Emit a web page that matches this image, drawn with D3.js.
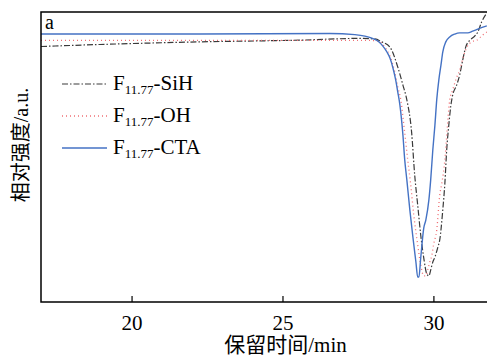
<!DOCTYPE html>
<html>
<head>
<meta charset="utf-8">
<script src="https://cdn.jsdelivr.net/npm/d3@7"></script>
<style>
  body { margin: 0; background: #fff; }
  text { font-family: 'Liberation Serif', 'Times New Roman', 'Noto Sans CJK SC', serif; fill: #000; }
</style>
</head>
<body>
<svg id="chart" width="487" height="356"></svg>
<script>
// retention time (min) and relative intensity (a.u.)
const timeSiH = [17.00, 18.95, 22.26, 25.58, 27.56, 28.06, 28.29, 28.56, 28.82, 28.99, 29.12, 29.28, 29.38, 29.48, 29.58, 29.68, 29.78, 29.85, 29.91, 29.98, 30.05, 30.15, 30.21, 30.31, 30.38, 30.44, 30.51, 30.58, 30.64, 30.77, 30.87, 30.97, 31.07, 31.21, 31.34, 31.47, 31.60, 31.77];
const valSiH = [88.1, 88.8, 89.7, 90.3, 90.9, 90.7, 89.7, 87.9, 81.0, 74.8, 69.7, 58.3, 43.8, 33.4, 23.1, 15.2, 9.7, 9.0, 11.0, 13.8, 15.5, 19.0, 21.4, 31.7, 41.0, 52.4, 61.0, 67.9, 71.4, 74.8, 78.3, 83.4, 87.9, 90.3, 91.4, 93.1, 96.6, 99.7];

const timeOH = [17.00, 22.26, 27.89, 28.16, 28.39, 28.56, 28.72, 28.82, 28.92, 29.05, 29.15, 29.25, 29.35, 29.48, 29.58, 29.68, 29.75, 29.81, 29.88, 29.95, 30.01, 30.11, 30.21, 30.28, 30.38, 30.48, 30.54, 30.64, 30.74, 30.87, 31.01, 31.11, 31.27, 31.44, 31.64, 31.77];
const valOH = [90.2, 90.2, 90.2, 90.0, 87.9, 84.8, 79.3, 74.1, 69.7, 58.3, 49.0, 40.3, 30.0, 19.7, 12.8, 9.0, 9.0, 11.0, 13.8, 16.2, 20.0, 24.8, 36.9, 41.0, 49.0, 62.8, 69.7, 73.1, 76.6, 80.0, 85.2, 87.9, 89.7, 90.3, 92.1, 93.1];

const timeCTA = [17.00, 22.26, 26.57, 27.40, 27.73, 27.96, 28.16, 28.32, 28.46, 28.56, 28.66, 28.75, 28.82, 28.89, 28.99, 29.05, 29.12, 29.22, 29.32, 29.42, 29.48, 29.52, 29.58, 29.68, 29.75, 29.85, 29.91, 29.98, 30.05, 30.11, 30.18, 30.25, 30.31, 30.41, 30.54, 30.71, 30.87, 31.14, 31.30, 31.47, 31.64, 31.77];
const valCTA = [92.4, 92.4, 92.6, 92.2, 91.7, 91.0, 90.0, 88.3, 86.2, 84.1, 80.7, 76.6, 72.4, 67.9, 57.6, 49.0, 42.1, 31.7, 22.4, 13.8, 8.6, 8.6, 15.2, 25.5, 28.3, 35.2, 42.1, 52.4, 61.0, 69.7, 76.6, 81.7, 86.2, 89.7, 91.4, 92.4, 92.8, 92.8, 93.4, 94.1, 94.8, 95.2];

const xTicks = [20, 25, 30];

const seriesNames = ['F11.77-SiH', 'F11.77-OH', 'F11.77-CTA'];

const svg = d3.select('#chart');
const margin = { top: 12, left: 41, bottom: 302, right: 530 };

const xScale = d3.scaleLinear().domain([17, 33.2]).range([margin.left, margin.right]);
const yScale = d3.scaleLinear().domain([0, 100]).range([margin.bottom, margin.top]);

svg.append('clipPath').attr('id', 'plot-clip')
  .append('rect')
  .attr('x', margin.left).attr('y', margin.top)
  .attr('width', margin.right - margin.left).attr('height', margin.bottom - margin.top);

const series = [
  { name: seriesNames[0], t: timeSiH, v: valSiH, color: '#3a3a3a', dash: '6,2,1.5,2', width: 1.2 },
  { name: seriesNames[1], t: timeOH, v: valOH, color: '#ef6f74', dash: '1,3', width: 1.3 },
  { name: seriesNames[2], t: timeCTA, v: valCTA, color: '#4472c4', dash: null, width: 1.4 },
];

const line = d3.line()
  .x(d => xScale(d[0]))
  .y(d => yScale(d[1]))
  .curve(d3.curveMonotoneX);

const plot = svg.append('g').attr('clip-path', 'url(#plot-clip)');

series.forEach(s => {
  plot.append('path')
    .datum(d3.zip(s.t, s.v))
    .attr('fill', 'none')
    .attr('stroke', s.color)
    .attr('stroke-width', s.width)
    .attr('stroke-dasharray', s.dash)
    .attr('d', line);
});

// axes
const xAxis = d3.axisBottom(xScale).tickValues(xTicks).tickSize(-6).tickPadding(13).tickFormat(d3.format('d'));

const gx = svg.append('g')
  .attr('transform', 'translate(0,' + margin.bottom + ')')
  .call(xAxis);
gx.select('.domain').remove();
gx.selectAll('.tick line').attr('stroke', '#000').attr('stroke-width', 1.2);
gx.selectAll('.tick text').style('font-size', '21px').attr('dy', '0.71em');

// frame (right side is off the picture)
svg.append('path')
  .attr('d', 'M' + margin.right + ',' + margin.top + 'H' + margin.left + 'V' + margin.bottom + 'H' + margin.right)
  .attr('fill', 'none')
  .attr('stroke', '#000')
  .attr('stroke-width', 1.5);

svg.append('text')
  .attr('x', 45).attr('y', 29)
  .style('font-size', '20px')
  .text('a');

svg.append('text')
  .attr('x', (margin.left + margin.right) / 2)
  .attr('y', 352)
  .style('text-anchor', 'middle')
  .style('font-size', '21px')
  .text('保留时间/min');

svg.append('text')
  .attr('transform', 'translate(28,' + 145 + ') rotate(-90)')
  .style('text-anchor', 'middle')
  .style('font-size', '20px')
  .text('相对强度/a.u.');

// legend
const legend = svg.append('g');
series.forEach((s, i) => {
  const y = 84 + i * 32;
  legend.append('line')
    .attr('x1', 62).attr('x2', 107)
    .attr('y1', y).attr('y2', y)
    .attr('stroke', s.color)
    .attr('stroke-width', s.width)
    .attr('stroke-dasharray', s.dash);
  const parts = s.name.split('-');
  const label = legend.append('text')
    .attr('x', 113).attr('y', y + 6)
    .style('font-size', '21px');
  label.append('tspan').text(parts[0].slice(0, 1));
  label.append('tspan').attr('dy', 4).style('font-size', '13px').text(parts[0].slice(1));
  label.append('tspan').attr('dy', -4).text('-' + parts[1]);
});
</script>
</body>
</html>
